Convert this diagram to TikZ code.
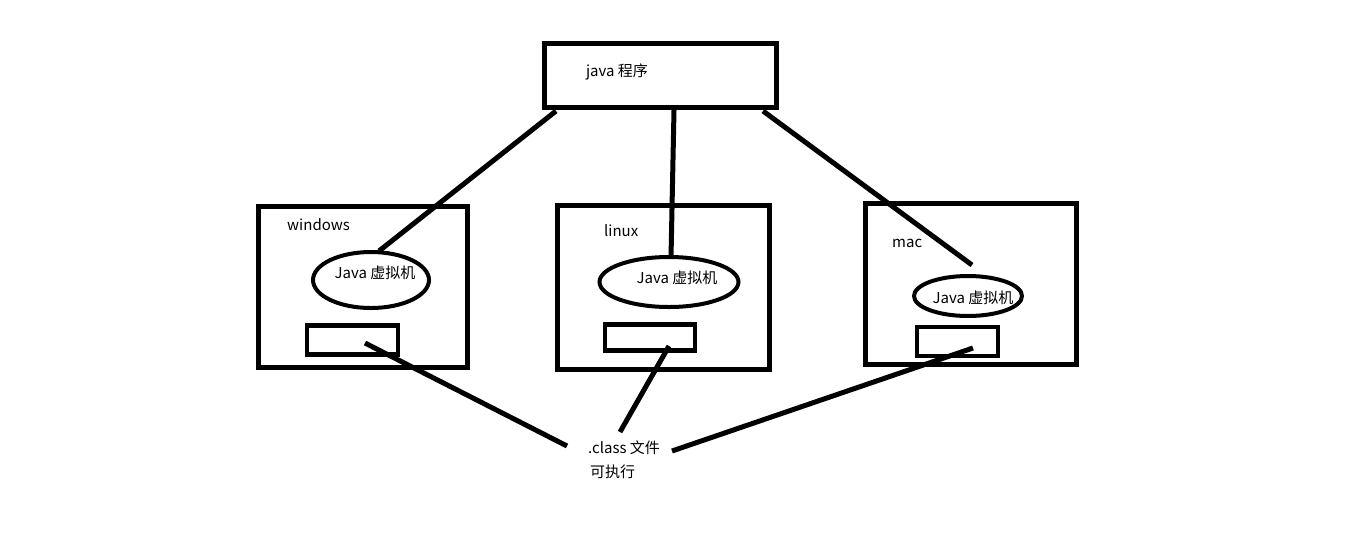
\documentclass[tikz,border=0pt]{standalone}
\usepackage{fontspec}
\setmainfont{Noto Sans CJK SC}
\usetikzlibrary{shapes.geometric}
\begin{document}
\begin{tikzpicture}[x=1pt,y=-1pt,
  bigbox/.style={draw, line width=5pt, rectangle, inner sep=0pt},
  smallbox/.style={draw, line width=4.5pt, rectangle, inner sep=0pt},
  vm/.style={draw, line width=4pt, ellipse, inner sep=0pt},
  lbl/.style={inner sep=0pt, font=\fontsize{15}{17}\selectfont},
  conn/.style={line width=5pt}]
\useasboundingbox (0,0) rectangle (1353,539);
% top
\node[bigbox, minimum width=232pt, minimum height=64pt] (prog) at (660,75) {};
\node[lbl] (progtxt) at (617,72) {java 程序};
% windows
\node[bigbox, minimum width=209pt, minimum height=161pt] (win) at (362.5,286.5) {};
\node[lbl, anchor=west] (wintxt) at (287,225) {windows};
\node[vm, minimum width=116pt, minimum height=56pt] (winvm) at (371,280) {};
\node[lbl] (winvmtxt) at (375,273) {Java 虚拟机};
\node[smallbox, minimum width=91pt, minimum height=29pt] (wincls) at (352.5,340) {};
% linux
\node[bigbox, minimum width=212pt, minimum height=164pt] (lin) at (663,287) {};
\node[lbl, anchor=west] (lintxt) at (604,231) {linux};
\node[vm, minimum width=139pt, minimum height=50pt] (linvm) at (669,282) {};
\node[lbl] (linvmtxt) at (677,278) {Java 虚拟机};
\node[smallbox, minimum width=90pt, minimum height=26pt] (lincls) at (650,337.5) {};
% mac
\node[bigbox, minimum width=211pt, minimum height=161pt] (mac) at (970.5,283.5) {};
\node[lbl, anchor=west] (mactxt) at (892,243) {mac};
\node[vm, minimum width=108pt, minimum height=40pt] (macvm) at (968,296) {};
\node[lbl] (macvmtxt) at (973,298) {Java 虚拟机};
\node[smallbox, minimum width=81pt, minimum height=29pt] (maccls) at (957.5,341.5) {};
% class file text
\node[lbl, anchor=west] (cls) at (588,448) {.class 文件};
\node[lbl, anchor=west] (exe) at (590,472) {可执行};
% connector end points
\coordinate (p1) at (556,111);
\coordinate (p2) at (674,110);
\coordinate (p3) at (763,111);
\coordinate (w1) at (379,251);
\coordinate (l1) at (671,258);
\coordinate (m1) at (972,265);
\coordinate (w2) at (365,343);
\coordinate (l2) at (669,346);
\coordinate (m2) at (973,348);
\coordinate (c1) at (567,446);
\coordinate (c2) at (620,432);
\coordinate (c3) at (672,451);
\draw[conn] (p1) -- (w1);
\draw[conn] (p2) -- (l1);
\draw[conn] (p3) -- (m1);
\draw[conn] (w2) -- (c1);
\draw[conn] (l2) -- (c2);
\draw[conn] (m2) -- (c3);
\end{tikzpicture}
\end{document}
